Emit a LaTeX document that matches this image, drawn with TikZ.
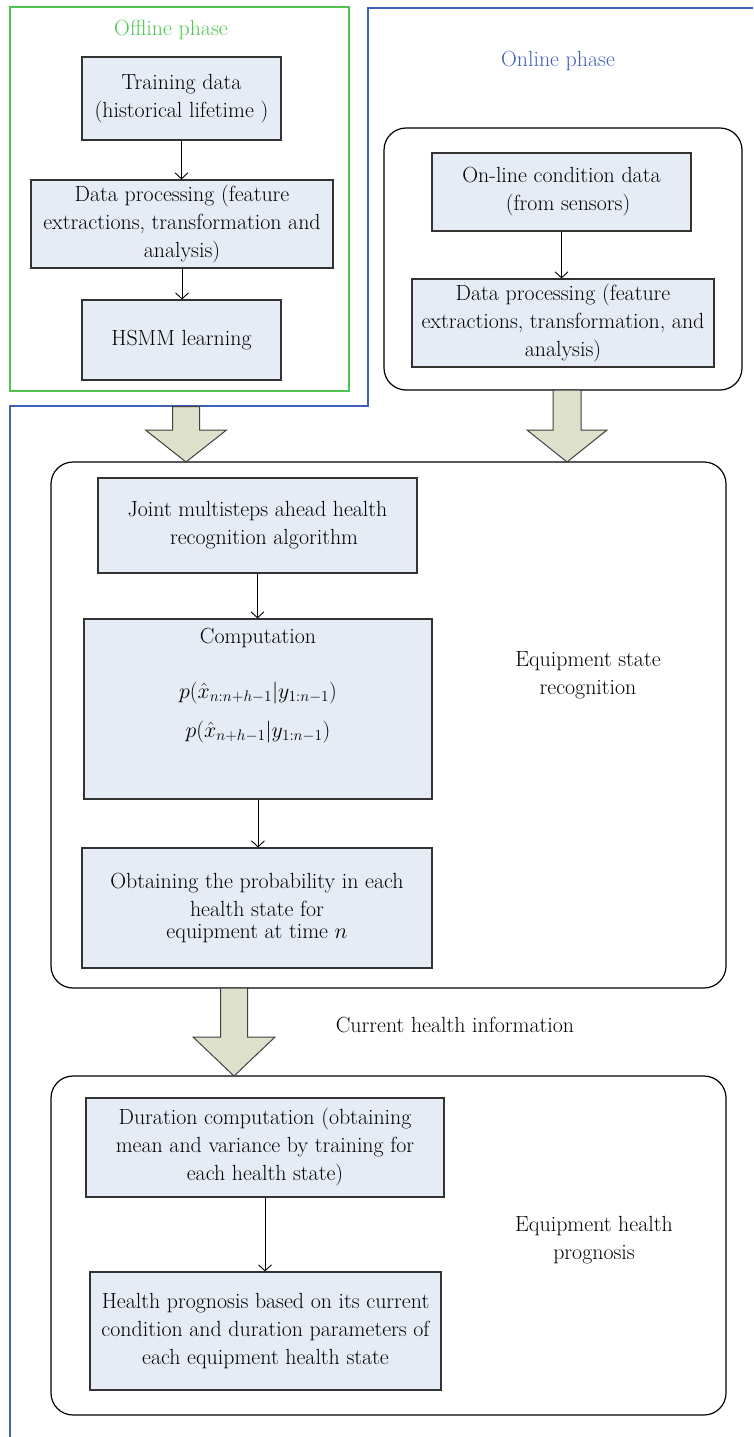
\RequirePackage{fix-cm}
\documentclass[tikz,border=0pt]{standalone}
\usetikzlibrary{arrows.meta,calc}
\definecolor{boxfill}{RGB}{230,236,245}
\definecolor{arrfill}{RGB}{221,225,204}
\definecolor{offgreen}{RGB}{80,196,80}
\definecolor{onblue}{RGB}{64,96,184}
\tikzset{
  every node/.style={font=\fontsize{21.9}{28}\selectfont},
  box/.style={draw=black!80, fill=boxfill, line width=1.2pt, align=center, inner sep=0pt},
  panel/.style={draw=black, line width=1.2pt, rounded corners=22pt},
  flow/.style={draw=black, line width=0.9pt, -{Straight Barb[length=6pt,width=13pt]}},
  bigarrow/.style={draw=black!75, fill=arrfill, line width=1pt, line join=miter},
  lbl/.style={align=center, inner sep=0pt}
}
\newcommand{\bigarr}[6]{% cx, ytop, yhead, ytip, shaft half, head half
  \draw[bigarrow] (#1-#5,#2) -- (#1+#5,#2) -- (#1+#5,#3) -- (#1+#6,#3) -- (#1,#4) -- (#1-#6,#3) -- (#1-#5,#3) -- cycle;
}
\begin{document}
\begin{tikzpicture}[x=1pt,y=-1pt]
\useasboundingbox (0,0) rectangle (753,1437);

% frames
\draw[offgreen, line width=1.2pt] (10,7) rectangle (349,391);
\draw[onblue, line width=1.3pt] (753,8) -- (368,8) -- (368,406) -- (10,406) -- (10,1437);
\node[lbl, text=offgreen] (offlbl) at (171,30) {Offline phase};
\node[lbl, text=onblue] (onlbl) at (558,61) {Online phase};

% panels
\draw[panel] (384,128) rectangle (742,390);
\draw[panel] (51,462) rectangle (726,988);
\draw[panel] (51,1076) rectangle (726,1415);

% offline boxes
\node[box, minimum width=199pt, minimum height=83pt] (train) at (181.5,98.5) {Training data\\(historical lifetime )};
\node[box, minimum width=302pt, minimum height=88pt] (proc1) at (182,224) {Data processing (feature\\extractions, transformation and\\analysis)};
\node[box, minimum width=199pt, minimum height=80pt] (hsmm) at (181.5,340) {HSMM learning};

% online boxes
\node[box, minimum width=259pt, minimum height=78pt] (online) at (561.5,192) {On-line condition data\\\ \ (from sensors)};
\node[box, minimum width=302pt, minimum height=88pt] (proc2) at (563,323) {Data processing (feature\\extractions, transformation, and\\analysis)};

% recognition
\node[box, minimum width=319pt, minimum height=95pt] (joint) at (257.5,525.5) {Joint multisteps ahead health\\\ \ recognition algorithm};
\node[box, minimum width=348pt, minimum height=180pt] (comp) at (258,709) {};
\node[lbl, anchor=north] (comptext) at ([yshift=-10pt]comp.north) {Computation};
\node[lbl] (form1) at (258,693) {$p(\hat{x}_{n:n+h-1}|y_{1:n-1})$};
\node[lbl] (form2) at (258,732) {$p(\hat{x}_{n+h-1}|y_{1:n-1})$};
\node[box, minimum width=350pt, minimum height=120pt] (obtain) at (257,908) {Obtaining the probability in each\\health state for\\[-6pt]equipment at time $n$};
\node[lbl] (eqrec) at (588,675) {Equipment state\\recognition};

% prognosis
\node[box, minimum width=358pt, minimum height=99pt] (dur) at (265,1147.5) {Duration computation (obtaining\\mean and variance by training for\\each health state)};
\node[box, minimum width=351pt, minimum height=118pt] (prog) at (265.5,1331) {Health prognosis based on its current\\condition and duration parameters of\\each equipment health state};
\node[lbl] (eqprog) at (594,1240) {Equipment health\\prognosis};

\node[lbl] (curr) at (455,1025) {Current health information};

% small connectors
\draw[flow] (train.south) -- (train.south |- proc1.north);
\draw[flow] (proc1.south) -- (proc1.south |- hsmm.north);
\draw[flow] (online.south) -- (online.south |- proc2.north);
\draw[flow] (joint.south) -- (joint.south |- comp.north);
\draw[flow] (comp.south) -- (comp.south |- obtain.north);
\draw[flow] (dur.south) -- (dur.south |- prog.north);

% big arrows
\bigarr{186}{406.5}{430}{462}{13.5}{40.5}
\bigarr{567}{390}{430}{462}{14}{40}
\bigarr{234}{988}{1037}{1076}{13.5}{41}
\end{tikzpicture}
\end{document}
